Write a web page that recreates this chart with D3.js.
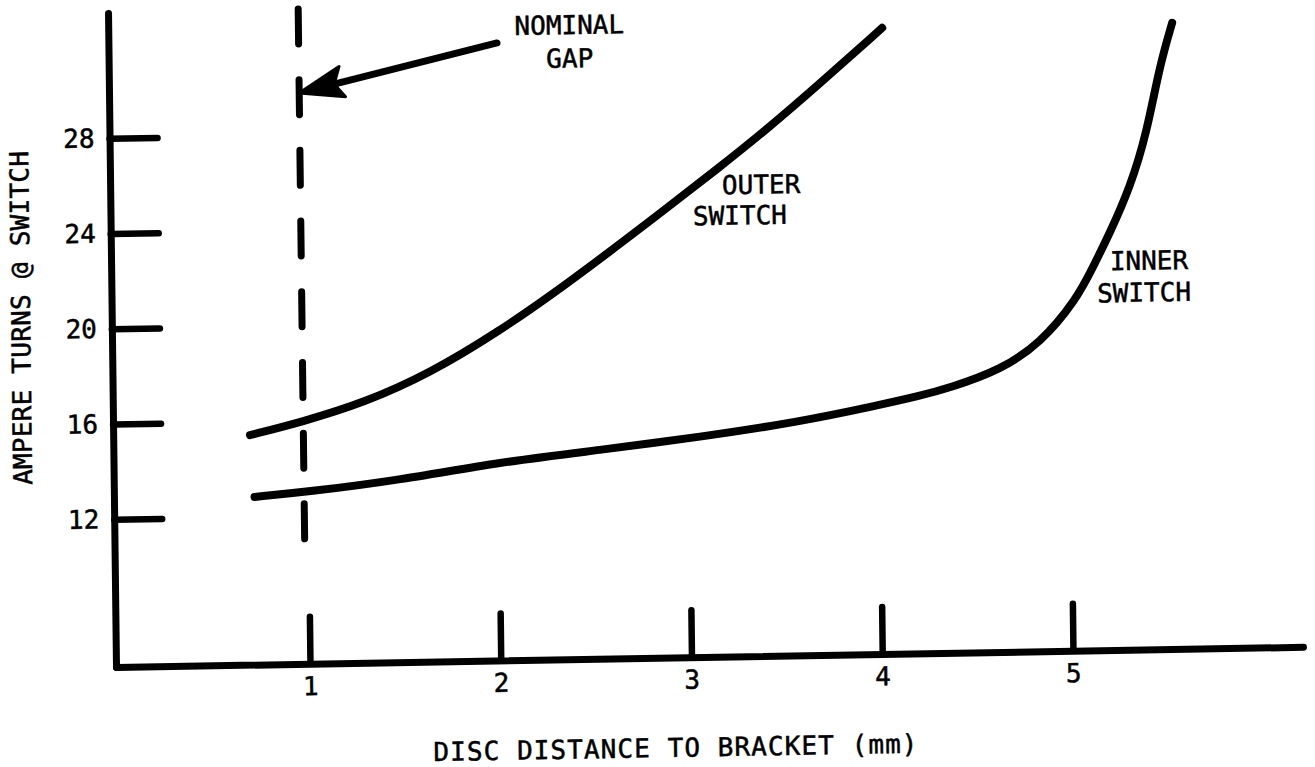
<!DOCTYPE html>
<html>
<head>
<meta charset="utf-8">
<script src="https://cdn.jsdelivr.net/npm/d3@7"></script>
<style>
body { margin: 0; background: #fff; }
svg text { font-family: 'DejaVu Sans Mono', monospace; font-size: 26px; fill: #000; stroke: #000; stroke-width: 0.5px; }
.axis path, .axis line { stroke: #000; stroke-linecap: round; }
.axis path { stroke-width: 7px; }
.axis line { stroke-width: 6.5px; }
</style>
</head>
<body>
<div id="chart"></div>
<script>
// tick values
var xTicks = [1, 2, 3, 4, 5];
var yTicks = [12, 16, 20, 24, 28];

// outer switch: disc distance (mm) vs ampere turns
var outerDist  = [0.70, 0.97, 1.30, 1.65, 2.00, 2.35, 2.70, 2.90, 3.17, 3.43, 3.69, 4.04];
var outerTurns = [15.44, 15.95, 16.71, 17.92, 19.55, 21.44, 23.49, 24.68, 26.30, 27.92, 29.66, 32.09];

// inner switch
var innerDist  = [0.72, 0.99, 1.48, 2.01, 2.53, 3.06, 3.58, 4.00, 4.21, 4.37, 4.64, 4.85, 5.04, 5.13, 5.22, 5.33, 5.42, 5.49, 5.56];
var innerTurns = [12.84, 13.01, 13.44, 14.13, 14.56, 15.04, 15.60, 16.25, 16.60, 16.92, 17.64, 18.74, 20.53, 21.90, 23.31, 25.23, 27.49, 30.25, 32.09];

// nominal gap marker (mm) and its vertical extent
var nominalGap = 0.98;
var gapTurns = [33.3, 10.7];

var W = 1315, H = 767;
var origin = {x: 116, y: 667};
// the scanned original is a little askew
var tilt = {a: 0.0122, b: -0.017};

var svg = d3.select('#chart').append('svg')
    .attr('width', W)
    .attr('height', H);

var g = svg.append('g')
    .attr('transform', 'matrix(1,' + tilt.b + ',' + tilt.a + ',1,' + origin.x + ',' + origin.y + ')');

var x = d3.scaleLinear()
    .domain([-0.017, 6.206])
    .range([0, 1187]);

var y = d3.scaleLinear()
    .domain([5.797, 33.265])
    .range([0, -654]);

var xAxis = d3.axisBottom(x)
    .tickValues(xTicks)
    .tickSizeInner(-47)
    .tickSizeOuter(0)
    .tickPadding(13)
    .tickFormat(d3.format('d'));

var yAxis = d3.axisLeft(y)
    .tickValues(yTicks)
    .tickSizeInner(-48)
    .tickSizeOuter(0)
    .tickPadding(15)
    .tickFormat(d3.format('d'));

g.append('g').attr('class', 'axis x').call(xAxis);
g.append('g').attr('class', 'axis y').call(yAxis);
g.selectAll('.axis text').attr('font-family', null).attr('font-size', null);

// nominal gap dashed line
g.append('line')
    .attr('x1', x(nominalGap))
    .attr('x2', x(nominalGap))
    .attr('y1', y(gapTurns[0]))
    .attr('y2', y(gapTurns[1]))
    .attr('stroke', '#000')
    .attr('stroke-width', 7)
    .attr('stroke-linecap', 'round')
    .attr('stroke-dasharray', '35 35.7');

// curves
var line = d3.line()
    .x(function(d) { return x(d[0]); })
    .y(function(d) { return y(d[1]); })
    .curve(d3.curveBasis);

g.append('path')
    .datum(d3.zip(outerDist, outerTurns))
    .attr('d', line)
    .attr('fill', 'none')
    .attr('stroke', '#000')
    .attr('stroke-width', 8)
    .attr('stroke-linecap', 'round');

g.append('path')
    .datum(d3.zip(innerDist, innerTurns))
    .attr('d', line)
    .attr('fill', 'none')
    .attr('stroke', '#000')
    .attr('stroke-width', 8)
    .attr('stroke-linecap', 'round');

// arrow pointing at the nominal gap
var tail = [x(2.02), y(31.73)],
    tip = [x(nominalGap), y(29.77)];
var dx = tail[0] - tip[0], dy = tail[1] - tip[1],
    len = Math.sqrt(dx * dx + dy * dy);
var ux = dx / len, uy = dy / len, nx = -uy, ny = ux;

g.append('line')
    .attr('x1', tail[0]).attr('y1', tail[1])
    .attr('x2', tip[0] + ux * 30).attr('y2', tip[1] + uy * 30)
    .attr('stroke', '#000')
    .attr('stroke-width', 7)
    .attr('stroke-linecap', 'round');

g.append('path')
    .attr('d', 'M' + tip[0] + ',' + tip[1] +
        'L' + (tip[0] + ux * 44 + nx * 15) + ',' + (tip[1] + uy * 44 + ny * 15) +
        'L' + (tip[0] + ux * 36) + ',' + (tip[1] + uy * 36) +
        'L' + (tip[0] + ux * 45 - nx * 16) + ',' + (tip[1] + uy * 45 - ny * 16) + 'Z')
    .attr('fill', '#000')
    .attr('stroke', '#000')
    .attr('stroke-width', 3)
    .attr('stroke-linejoin', 'round');

// annotations
function note(mm, turns, txt, anchor) {
    g.append('text')
        .attr('x', x(mm))
        .attr('y', y(turns))
        .attr('dy', '0.36em')
        .attr('text-anchor', anchor)
        .text(txt);
}
note(2.40, 32.44, 'NOMINAL', 'middle');
note(2.40, 31.05, 'GAP', 'middle');
note(3.19, 25.61, 'OUTER', 'start');
note(3.036, 24.33, 'SWITCH', 'start');
note(5.218, 22.14, 'INNER', 'start');
note(5.149, 20.80, 'SWITCH', 'start');

// axis titles
g.append('text')
    .attr('transform', 'translate(-91,' + y(20.52) + ') rotate(-90)')
    .attr('dy', '0.36em')
    .attr('text-anchor', 'middle')
    .attr('textLength', 334)
    .attr('lengthAdjust', 'spacing')
    .text('AMPERE TURNS @ SWITCH');

g.append('text')
    .attr('x', x(2.91))
    .attr('y', 90)
    .attr('dy', '0.36em')
    .attr('text-anchor', 'middle')
    .attr('textLength', 484)
    .attr('lengthAdjust', 'spacing')
    .text('DISC DISTANCE TO BRACKET (mm)');
</script>
</body>
</html>
